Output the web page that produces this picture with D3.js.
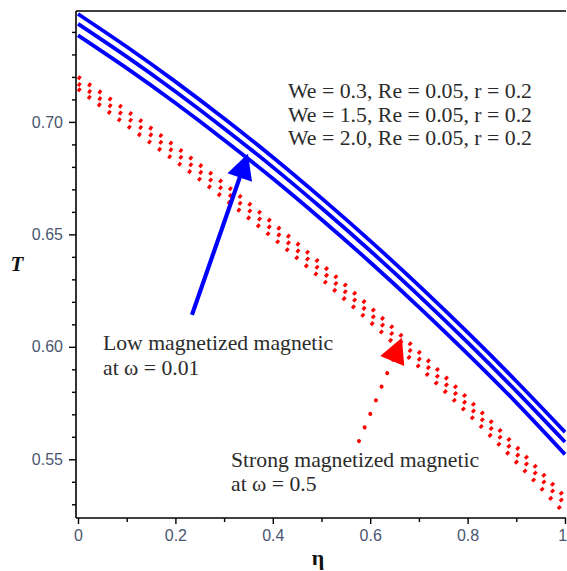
<!DOCTYPE html>
<html>
<head>
<meta charset="utf-8">
<script src="https://cdn.jsdelivr.net/npm/d3@7"></script>
<style>
  html, body { margin: 0; padding: 0; background: #fff; }
  svg { display: block; }
</style>
</head>
<body>
<svg id="chart" width="567" height="571"></svg>
<script>
// ---- data ----
const eta = [0, 0.1, 0.2, 0.3, 0.4, 0.5, 0.6, 0.7, 0.8, 0.9, 1.0];
// Low magnetized (omega = 0.01), blue solid
const blueWe03 = [0.7480, 0.7334, 0.7179, 0.7015, 0.6843, 0.6661, 0.6471, 0.6272, 0.6064, 0.5847, 0.5621];
const blueWe15 = [0.7436, 0.7290, 0.7135, 0.6971, 0.6799, 0.6617, 0.6427, 0.6228, 0.6020, 0.5803, 0.5577];
const blueWe20 = [0.7385, 0.7239, 0.7084, 0.6920, 0.6748, 0.6566, 0.6376, 0.6177, 0.5969, 0.5752, 0.5522];
// Strong magnetized (omega = 0.5), red dotted
const redWe03 = [0.7200, 0.7050, 0.6891, 0.6725, 0.6550, 0.6367, 0.6176, 0.5977, 0.5770, 0.5555, 0.5332];
const redWe15 = [0.7170, 0.7020, 0.6861, 0.6695, 0.6520, 0.6337, 0.6146, 0.5947, 0.5740, 0.5525, 0.5302];
const redWe20 = [0.7147, 0.6985, 0.6826, 0.6660, 0.6485, 0.6302, 0.6111, 0.5912, 0.5705, 0.5488, 0.5258];

const xTicks = [0, 0.2, 0.4, 0.6, 0.8, 1];
const xTickLabels = ["0", "0.2", "0.4", "0.6", "0.8", "1"];
const xMinor = [0.1, 0.3, 0.5, 0.7, 0.9];
const yTicks = [0.55, 0.60, 0.65, 0.70];
const yTickLabels = ["0.55", "0.60", "0.65", "0.70"];
const yMinor = [0.53, 0.54, 0.56, 0.57, 0.58, 0.59, 0.61, 0.62, 0.63, 0.64, 0.66, 0.67, 0.68, 0.69, 0.71, 0.72, 0.73, 0.74];

const legendLines = ["We = 0.3, Re = 0.05, r = 0.2", "We = 1.5, Re = 0.05, r = 0.2", "We = 2.0, Re = 0.05, r = 0.2"];
const lowLabel = ["Low magnetized magnetic", "at \u03c9 = 0.01"];
const strongLabel = ["Strong magnetized magnetic", "at \u03c9 = 0.5"];
// arrows in data units: [tailEta, tailT, tipEta, tipT]
const blueArrow = [0.234, 0.6142, 0.349, 0.6858];
const redArrow = [0.577, 0.5581, 0.665, 0.6040];

// ---- layout ----
const svg = d3.select("#chart");
const frameL = 76, frameR = 566, frameT = 11, frameB = 518;
const x = d3.scaleLinear().domain([0, 1]).range([78, 565]);
const y = d3.scaleLinear().domain([0.5239, 0.7493]).range([frameB, frameT]);

const tickColor = "#4b5670";
const tickFont = "'Liberation Sans', Arial, sans-serif";
const serif = "'Liberation Serif', 'Times New Roman', serif";

// frame lines
svg.append("line").attr("x1", frameL).attr("x2", frameL).attr("y1", frameT).attr("y2", frameB)
  .attr("stroke", "#000").attr("stroke-width", 1.6);
svg.append("line").attr("x1", frameL).attr("x2", frameR).attr("y1", frameB).attr("y2", frameB)
  .attr("stroke", "#000").attr("stroke-width", 1.6);
svg.append("line").attr("x1", frameL).attr("x2", frameR).attr("y1", frameT).attr("y2", frameT)
  .attr("stroke", "#000").attr("stroke-width", 1.6);

// x axis
const xAxis = d3.axisBottom(x).tickValues(xTicks).tickSize(6).tickPadding(6)
  .tickFormat((d, i) => xTickLabels[i]);
const gx = svg.append("g").attr("transform", `translate(0,${frameB})`).call(xAxis);
gx.select(".domain").remove();
gx.selectAll(".tick line").attr("stroke", "#000").attr("stroke-width", 1.4);
gx.selectAll(".tick text").attr("fill", tickColor).attr("font-family", tickFont).attr("font-size", 16);
gx.selectAll(".tick text").filter(d => d === 1).attr("text-anchor", "end").attr("dx", "0.1em");
const gxm = svg.append("g").attr("transform", `translate(0,${frameB})`)
  .call(d3.axisBottom(x).tickValues(xMinor).tickSize(4).tickFormat(""));
gxm.select(".domain").remove();
gxm.selectAll(".tick line").attr("stroke", "#000").attr("stroke-width", 1.4);

// y axis
const yAxis = d3.axisLeft(y).tickValues(yTicks).tickSize(7).tickPadding(6)
  .tickFormat((d, i) => yTickLabels[i]);
const gy = svg.append("g").attr("transform", `translate(${frameL},0)`).call(yAxis);
gy.select(".domain").remove();
gy.selectAll(".tick line").attr("stroke", "#000").attr("stroke-width", 1.4);
gy.selectAll(".tick text").attr("fill", tickColor).attr("font-family", tickFont).attr("font-size", 16);
const gym = svg.append("g").attr("transform", `translate(${frameL},0)`)
  .call(d3.axisLeft(y).tickValues(yMinor).tickSize(4).tickFormat(""));
gym.select(".domain").remove();
gym.selectAll(".tick line").attr("stroke", "#000").attr("stroke-width", 1.4);

// axis titles
svg.append("text").attr("x", 17).attr("y", 271).attr("text-anchor", "middle")
  .attr("font-family", serif).attr("font-size", 21).attr("font-weight", "bold")
  .attr("font-style", "italic").attr("fill", "#111").text("T");
svg.append("text").attr("x", 318).attr("y", 565).attr("text-anchor", "middle")
  .attr("font-family", serif).attr("font-size", 22).attr("font-weight", "bold")
  .attr("fill", "#111").text("\u03b7");

// curves
const line = d3.line().x((d, i) => x(eta[i])).y(d => y(d)).curve(d3.curveNatural);
const plot = svg.append("g");
[redWe03, redWe15, redWe20].forEach(s => {
  plot.append("path").attr("d", line(s)).attr("fill", "none")
    .attr("stroke", "#ff0000").attr("stroke-width", 4)
    .attr("stroke-dasharray", "3.2 9.3");
});
[blueWe03, blueWe15, blueWe20].forEach(s => {
  plot.append("path").attr("d", line(s)).attr("fill", "none")
    .attr("stroke", "#0000ff").attr("stroke-width", 3.8);
});

// arrows
function drawArrow(a, color, dotted) {
  const x0 = x(a[0]), y0 = y(a[1]), x1 = x(a[2]), y1 = y(a[3]);
  const dx = x1 - x0, dy = y1 - y0, L = Math.hypot(dx, dy);
  const ux = dx / L, uy = dy / L, px = -uy, py = ux;
  const hl = 25, hw = 13;
  const bx = x1 - ux * hl, by = y1 - uy * hl;
  const shaft = svg.append("line").attr("x1", x0).attr("y1", y0)
    .attr("x2", bx + ux * 3).attr("y2", by + uy * 3)
    .attr("stroke", color).attr("stroke-width", dotted ? 4 : 4.2);
  if (dotted) shaft.attr("stroke-linecap", "round").attr("stroke-dasharray", "0.1 14.6");
  svg.append("polygon")
    .attr("points", [[x1, y1], [bx + px * hw, by + py * hw], [bx - px * hw, by - py * hw]].map(p => p.join(",")).join(" "))
    .attr("fill", color);
}
drawArrow(blueArrow, "#0000ff", false);
drawArrow(redArrow, "#ff0000", true);

// texts
const textColor = "#2b2b2b";
legendLines.forEach((t, i) => {
  svg.append("text").attr("x", 288).attr("y", 98 + i * 23.5)
    .attr("font-family", serif).attr("font-size", 21.8).attr("fill", textColor).text(t);
});
lowLabel.forEach((t, i) => {
  svg.append("text").attr("x", 103).attr("y", 350 + i * 25)
    .attr("font-family", serif).attr("font-size", 21.7).attr("fill", textColor).text(t);
});
strongLabel.forEach((t, i) => {
  svg.append("text").attr("x", 231).attr("y", 467 + i * 24)
    .attr("font-family", serif).attr("font-size", 21.7).attr("fill", textColor).text(t);
});
</script>
</body>
</html>
